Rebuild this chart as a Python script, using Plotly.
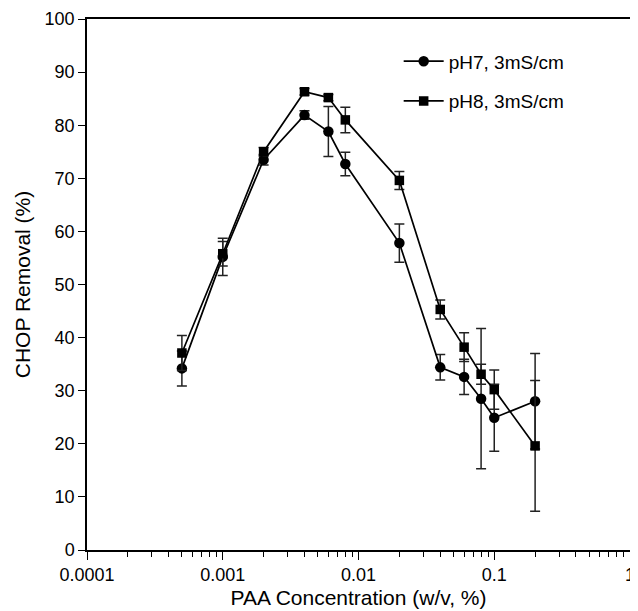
import plotly.graph_objects as go

# PAA concentration (w/v, %)
paa = [0.0005, 0.001, 0.002, 0.004, 0.006, 0.008, 0.02, 0.04, 0.06, 0.08, 0.1, 0.2]

ph7_name = "pH7, 3mS/cm"
ph7 = [34.2, 55.2, 73.5, 81.9, 78.8, 72.7, 57.8, 34.4, 32.6, 28.5, 24.9, 28.0]
ph7_err = [3.3, 3.5, 1.0, 0.8, 4.7, 2.2, 3.6, 2.4, 3.3, 13.2, 6.3, 9.0]

ph8_name = "pH8, 3mS/cm"
ph8 = [37.1, 55.8, 75.0, 86.3, 85.2, 81.0, 69.6, 45.3, 38.2, 33.1, 30.2, 19.6]
ph8_err = [3.3, 2.3, 0.8, 0.6, 0.6, 2.4, 1.7, 1.8, 2.7, 1.9, 3.7, 12.3]

x_tickvals = [0.0001, 0.001, 0.01, 0.1, 1]
x_ticktext = ["0.0001", "0.001", "0.01", "0.1", "1"]
y_tickvals = [0, 10, 20, 30, 40, 50, 60, 70, 80, 90, 100]

minor_vals = [m * d for d in [0.0001, 0.001, 0.01, 0.1] for m in range(2, 10)]

FONT = "Liberation Sans, Arial, sans-serif"

fig = go.Figure()

fig.add_trace(go.Scatter(
    x=paa, y=ph7, name=ph7_name, mode="lines+markers",
    line=dict(color="black", width=1.7),
    marker=dict(symbol="circle", size=10.5, color="black"),
    error_y=dict(type="data", array=ph7_err, visible=True, color="#222",
                 thickness=1.5, width=5),
    legendgroup="a",
))
fig.add_trace(go.Scatter(
    x=paa, y=ph8, name=ph8_name, mode="lines+markers",
    line=dict(color="black", width=1.7),
    marker=dict(symbol="square", size=9.5, color="black"),
    error_y=dict(type="data", array=ph8_err, visible=True, color="#222",
                 thickness=1.5, width=5),
    legendgroup="b",
))

# page body adds an 8px offset; figure sized so the plot lands in place
fig.update_layout(
    width=630, height=603,
    margin=dict(l=79, r=8, t=11, b=61),
    paper_bgcolor="white", plot_bgcolor="white",
    font=dict(family=FONT, size=18, color="black"),
    showlegend=True,
    legend=dict(
        x=0.574, y=0.956, xanchor="left", yanchor="top",
        bgcolor="rgba(0,0,0,0)", font=dict(size=19, family=FONT),
        traceorder="grouped", tracegroupgap=12,
        itemwidth=40,
    ),
    xaxis=dict(
        type="log", range=[-4, 0], automargin=False,
        tickmode="array", tickvals=x_tickvals, ticktext=x_ticktext,
        ticks="outside", ticklen=8, tickwidth=1.3, tickcolor="black",
        ticklabeloverflow="allow",
        showline=True, linecolor="black", linewidth=1.5, mirror=True,
        showgrid=False, zeroline=False,
        tickfont=dict(size=18, family=FONT),
        title=dict(text="PAA Concentration (w/v, %)", font=dict(size=21, family=FONT), standoff=6),
        minor=dict(tickmode="array", tickvals=minor_vals, ticks="outside",
                   ticklen=5, tickwidth=1.3, tickcolor="black", showgrid=False),
    ),
    yaxis=dict(
        range=[0, 100], automargin=False,
        tickmode="array", tickvals=y_tickvals,
        ticks="outside", ticklen=7, tickwidth=1.3, tickcolor="black",
        ticklabeloverflow="allow",
        showline=True, linecolor="black", linewidth=1.5, mirror=True,
        showgrid=False, zeroline=False,
        tickfont=dict(size=18, family=FONT),
        title=dict(text="CHOP Removal (%)", font=dict(size=21, family=FONT), standoff=8),
    ),
)

fig.write_html("out.html")
